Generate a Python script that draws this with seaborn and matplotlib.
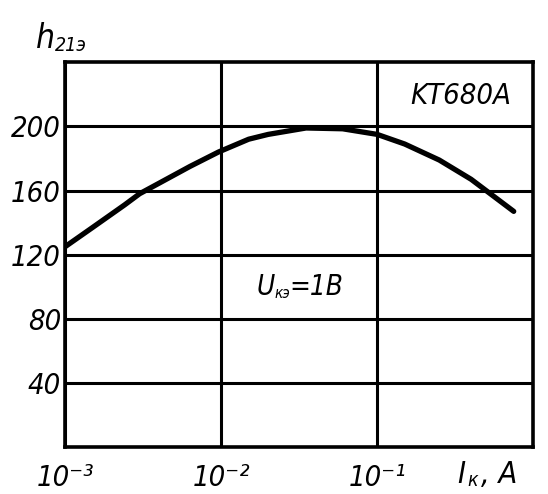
import numpy as np
import pandas as pd
import seaborn as sns
import matplotlib.pyplot as plt

# values
collector_current = [0.001, 0.0015, 0.0024, 0.003, 0.0039, 0.0063, 0.0096, 0.015,
                     0.02, 0.035, 0.06, 0.1, 0.15, 0.25, 0.4, 0.75]
h21e = [125, 137, 151, 158, 164, 175, 184, 192, 195, 199, 198.5, 195, 189, 179, 167, 147]

x_ticks = [1e-3, 1e-2, 1e-1]
x_tick_labels = ["10⁻³", "10⁻²", "10⁻¹"]
y_ticks = [40, 80, 120, 160, 200]

df = pd.DataFrame({"ic": collector_current, "h": h21e})

sns.set_style("white")
plt.rcParams["font.family"] = ["DejaVu Sans"]
plt.rcParams["font.stretch"] = "condensed"
plt.rcParams["font.style"] = "italic"
plt.rcParams["text.color"] = "black"
plt.rcParams["xtick.color"] = "black"
plt.rcParams["ytick.color"] = "black"

fig = plt.figure(figsize=(5.48, 4.94), dpi=100)
ax = fig.add_axes([0.119, 0.095, 0.854, 0.779])

sns.lineplot(data=df, x="ic", y="h", color="black", linewidth=3.8, ax=ax)

ax.set_xscale("log")
ax.set_xlim(1e-3, 1)
ax.set_ylim(0, 240)

ax.set_xticks(x_ticks)
ax.set_xticklabels(x_tick_labels)
ax.minorticks_off()
ax.set_yticks(y_ticks)
ax.set_yticklabels([str(v) for v in y_ticks])
ax.tick_params(axis="both", length=0, labelsize=21, pad=3)
ax.tick_params(axis="x", pad=12)

ax.grid(True, which="major", color="black", linewidth=2.2)
for s in ax.spines.values():
    s.set_color("black")
    s.set_linewidth(2.6)

ax.set_xlabel("")
ax.set_ylabel("")

# axis titles, datasheet style
fig.text(0.066, 0.903, "h", fontsize=24, ha="left", va="baseline")
fig.text(0.1, 0.896, "21э", fontsize=14, ha="left", va="baseline")
fig.text(0.835, 0.022, "I", fontsize=22, ha="left", va="baseline")
fig.text(0.853, 0.016, "к", fontsize=14, ha="left", va="baseline")
fig.text(0.878, 0.022, ", A", fontsize=22, ha="left", va="baseline")

ax.text(0.845, 0.912, "KT680A", transform=ax.transAxes, fontsize=21,
        ha="center", va="center")
ax.text(0.447, 0.415, "U", transform=ax.transAxes, fontsize=20,
        ha="right", va="center")
ax.text(0.447, 0.4, "кэ", transform=ax.transAxes, fontsize=11,
        ha="left", va="center")
ax.text(0.478, 0.415, "=1B", transform=ax.transAxes, fontsize=20,
        ha="left", va="center")

plt.savefig("out.png", dpi=100)
plt.close()
